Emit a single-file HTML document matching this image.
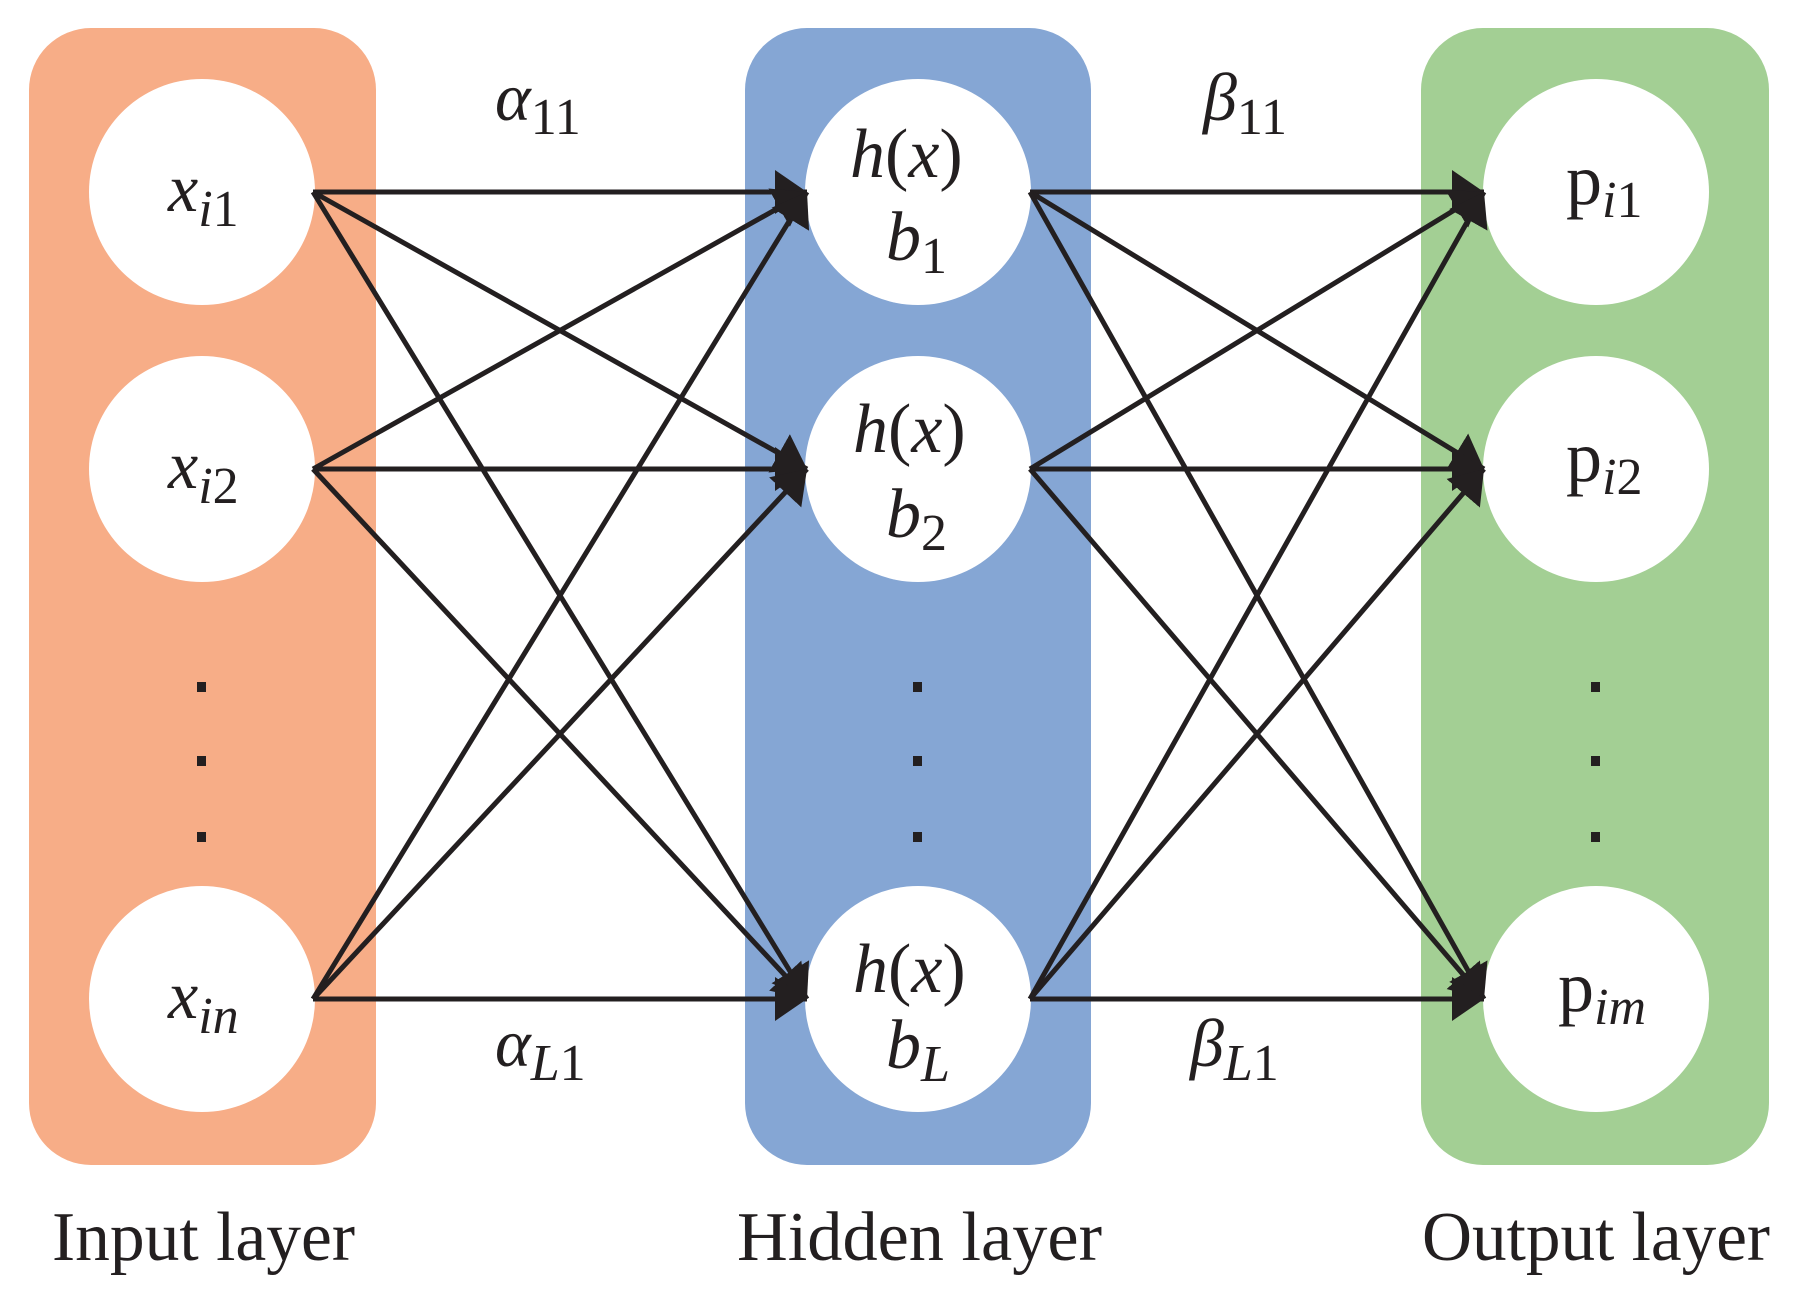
<!DOCTYPE html>
<html><head><meta charset="utf-8"><style>
html,body{margin:0;padding:0;background:#fff;}
svg{display:block;}
.m{font-family:"Liberation Serif",serif;font-style:italic;fill:#231f20;}
.r{font-family:"Liberation Serif",serif;fill:#231f20;}
</style></head><body>
<svg width="1801" height="1296" viewBox="0 0 1801 1296" xmlns="http://www.w3.org/2000/svg">
<defs>
<marker id="a" markerUnits="userSpaceOnUse" markerWidth="34" markerHeight="50" refX="32" refY="24" orient="auto">
<path d="M0,2 L32,24 L0,46 Z" fill="#231f20"/>
</marker>
</defs>
<rect x="29" y="28" width="347" height="1137" rx="62" fill="#f7ad87"/>
<rect x="745" y="28" width="346" height="1137" rx="62" fill="#85a6d4"/>
<rect x="1421" y="28" width="348" height="1137" rx="62" fill="#a3cf94"/>
<g fill="#fff">
<circle cx="202" cy="192" r="113"/><circle cx="202" cy="469" r="113"/><circle cx="202" cy="999" r="113"/>
<circle cx="918" cy="192" r="113"/><circle cx="918" cy="469" r="113"/><circle cx="918" cy="999" r="113"/>
<circle cx="1596" cy="192" r="113"/><circle cx="1596" cy="469" r="113"/><circle cx="1596" cy="999" r="113"/>
</g>
<g stroke="#231f20" stroke-width="5" fill="none" marker-end="url(#a)">
<line x1="313" y1="192" x2="807" y2="192"/><line x1="313" y1="192" x2="807" y2="469"/><line x1="313" y1="192" x2="807" y2="999"/>
<line x1="313" y1="469" x2="807" y2="192"/><line x1="313" y1="469" x2="807" y2="469"/><line x1="313" y1="469" x2="807" y2="999"/>
<line x1="313" y1="999" x2="807" y2="192"/><line x1="313" y1="999" x2="807" y2="469"/><line x1="313" y1="999" x2="807" y2="999"/>
<line x1="1030" y1="192" x2="1484" y2="192"/><line x1="1030" y1="192" x2="1484" y2="469"/><line x1="1030" y1="192" x2="1484" y2="999"/>
<line x1="1030" y1="469" x2="1484" y2="192"/><line x1="1030" y1="469" x2="1484" y2="469"/><line x1="1030" y1="469" x2="1484" y2="999"/>
<line x1="1030" y1="999" x2="1484" y2="192"/><line x1="1030" y1="999" x2="1484" y2="469"/><line x1="1030" y1="999" x2="1484" y2="999"/>
</g>
<g fill="#231f20">
<rect x="197" y="682" width="9" height="10"/><rect x="197" y="756" width="9" height="10"/><rect x="197" y="832" width="9" height="10"/>
<rect x="913" y="682" width="9" height="10"/><rect x="913" y="756" width="9" height="10"/><rect x="913" y="832" width="9" height="10"/>
<rect x="1591" y="682" width="9" height="10"/><rect x="1591" y="756" width="9" height="10"/><rect x="1591" y="832" width="9" height="10"/>
</g>
<text class="m" x="168" y="211" font-size="68">x<tspan font-size="52" dy="15">i</tspan><tspan font-size="52" font-style="normal">1</tspan></text>
<text class="m" x="168" y="488" font-size="68">x<tspan font-size="52" dy="15">i</tspan><tspan font-size="52" font-style="normal">2</tspan></text>
<text class="m" x="168" y="1018" font-size="68">x<tspan font-size="52" dy="15">in</tspan></text>
<text class="m" x="850" y="177" font-size="70">h<tspan font-style="normal">(</tspan>x<tspan font-style="normal">)</tspan></text>
<text class="m" x="886" y="260" font-size="70">b<tspan font-size="52" dy="13" font-style="normal">1</tspan></text>
<text class="m" x="853" y="452" font-size="70">h<tspan font-style="normal">(</tspan>x<tspan font-style="normal">)</tspan></text>
<text class="m" x="886" y="537" font-size="70">b<tspan font-size="52" dy="13" font-style="normal">2</tspan></text>
<text class="m" x="853" y="992" font-size="70">h<tspan font-style="normal">(</tspan>x<tspan font-style="normal">)</tspan></text>
<text class="m" x="886" y="1068" font-size="70">b<tspan font-size="52" dy="13">L</tspan></text>
<text class="r" x="1566" y="204" font-size="72">p<tspan class="m" font-size="52" dy="13">i</tspan><tspan font-size="52">1</tspan></text>
<text class="r" x="1566" y="481" font-size="72">p<tspan class="m" font-size="52" dy="13">i</tspan><tspan font-size="52">2</tspan></text>
<text class="r" x="1558" y="1011" font-size="72">p<tspan class="m" font-size="52" dy="13">im</tspan></text>
<text class="m" x="495" y="120" font-size="68">α<tspan font-size="52" dy="14" font-style="normal">11</tspan></text>
<text class="m" x="495" y="1066" font-size="68">α<tspan font-size="52" dy="14">L</tspan><tspan font-size="52" font-style="normal">1</tspan></text>
<text class="m" x="1203" y="120" font-size="68">β<tspan font-size="52" dy="14" font-style="normal">11</tspan></text>
<text class="m" x="1190" y="1066" font-size="68">β<tspan font-size="52" dy="14">L</tspan><tspan font-size="52" font-style="normal">1</tspan></text>
<text class="r" x="52" y="1260" font-size="70" textLength="303" lengthAdjust="spacingAndGlyphs">Input layer</text>
<text class="r" x="737" y="1260" font-size="70" textLength="365" lengthAdjust="spacingAndGlyphs">Hidden layer</text>
<text class="r" x="1422" y="1260" font-size="70" textLength="348" lengthAdjust="spacingAndGlyphs">Output layer</text>
</svg>
</body></html>
